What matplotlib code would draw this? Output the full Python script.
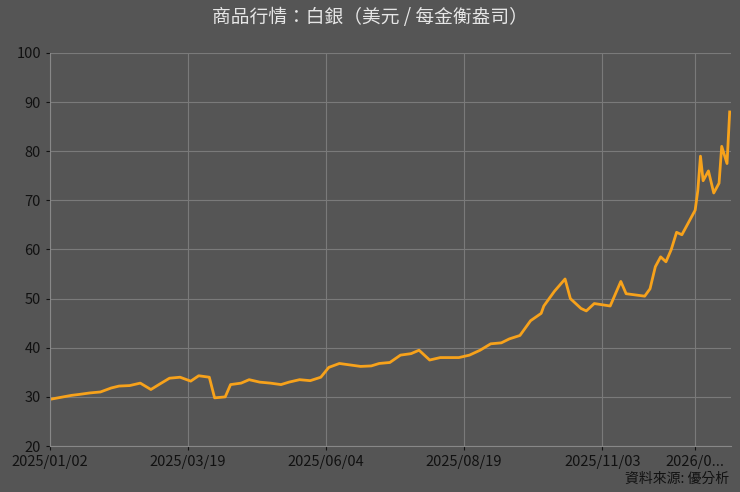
import matplotlib
matplotlib.use("Agg")
import matplotlib.pyplot as plt

plt.rcParams['font.family'] = ['Noto Sans CJK TC', 'DejaVu Sans']

# trading-day index (0 = 2025/01/02) and silver price (USD/oz)
day = [0,8,11,15,19,23,26,30,34,38,41,45,49,53,56,60,62,66,68,72,75,79,83,87,90,94,98,102,105,109,113,117,121,124,128,132,136,139,143,147,151,154,158,162,166,170,173,177,181,185,186,190,194,196,200,202,205,211,215,217,224,226,228,230,232,234,236,238,243,244,245,246,248,250,252,253,255,256]
price = [29.5,30.3,30.5,30.8,31.0,31.8,32.2,32.3,32.8,31.5,32.5,33.8,34.0,33.2,34.3,34.0,29.8,30.0,32.5,32.8,33.5,33.0,32.8,32.5,33.0,33.5,33.3,34.0,36.0,36.8,36.5,36.2,36.3,36.8,37.0,38.5,38.8,39.5,37.5,38.0,38.0,38.0,38.5,39.5,40.8,41.0,41.8,42.5,45.5,47.0,48.5,51.5,54.0,50.0,48.0,47.5,49.0,48.5,53.5,51.0,50.5,52.0,56.5,58.5,57.5,60.0,63.5,63.0,68.0,72.0,79.0,74.0,76.0,71.5,73.5,81.0,77.5,88.0]
tick_pos = [0, 52, 104, 156, 208, 243]
tick_labels = ['2025/01/02', '2025/03/19', '2025/06/04', '2025/08/19', '2025/11/03', '2026/0...']

bg = '#555555'
fig = plt.figure(figsize=(7.4, 4.92), dpi=100, facecolor=bg)
ax = fig.add_axes([50/740, 46/492, 681/740, (446-53)/492], facecolor=bg)
ax.plot(day, price, color='#f7a21b', lw=2)
ax.set_xlim(0, 256.5)
ax.set_ylim(20, 100)
ax.set_yticks(range(20, 101, 10))
ax.set_xticks(tick_pos)
ax.set_xticklabels(tick_labels)
ax.grid(True, color='#7a7a7a', lw=0.8)
ax.set_axisbelow(True)
for s in ['top', 'right']:
    ax.spines[s].set_visible(False)
for s in ['left', 'bottom']:
    ax.spines[s].set_color('#888888')
ax.tick_params(colors='#111111', labelsize=10.5, length=3)
fig.text(0.5, 0.965, '商品行情：白銀（美元 / 每金衡盎司）', ha='center', va='center',
         color='#e6e6e6', fontsize=13.5)
fig.text(0.985, 0.012, '資料來源: 優分析', ha='right', va='bottom', color='#111111', fontsize=10)
fig.savefig('out.png', facecolor=bg)
